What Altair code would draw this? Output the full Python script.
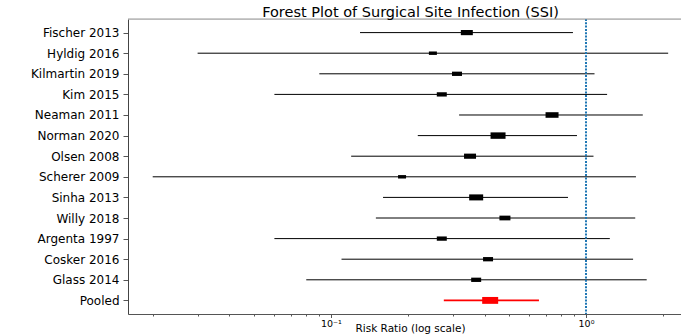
import altair as alt
import pandas as pd

studies = ["Fischer 2013", "Hyldig 2016", "Kilmartin 2019", "Kim 2015", "Neaman 2011",
           "Norman 2020", "Olsen 2008", "Scherer 2009", "Sinha 2013", "Willy 2018",
           "Argenta 1997", "Cosker 2016", "Glass 2014", "Pooled"]
rr = [0.341, 0.251, 0.312, 0.272, 0.736, 0.452, 0.351, 0.190, 0.371, 0.481, 0.272, 0.413, 0.371, 0.421]
ci_low = [0.130, 0.030, 0.090, 0.060, 0.318, 0.219, 0.120, 0.020, 0.160, 0.150, 0.060, 0.110, 0.080, 0.277]
ci_high = [0.889, 2.10, 1.08, 1.21, 1.67, 0.922, 1.07, 1.57, 0.85, 1.56, 1.24, 1.53, 1.73, 0.654]
weight = [12, 8, 10, 10, 13, 15, 12, 8, 14, 11, 10, 10, 10, 16]
kind = ["study"] * 13 + ["pooled"]

x_ticks = [0.02, 0.03, 0.04, 0.05, 0.06, 0.07, 0.08, 0.09, 0.1,
           0.2, 0.3, 0.4, 0.5, 0.6, 0.7, 0.8, 0.9, 1, 2]
null_value = 1.0

df = pd.DataFrame({"study": studies, "rr": rr, "lo": ci_low, "hi": ci_high,
                   "weight": weight, "kind": kind})

W, H = 553, 295
xscale = alt.Scale(type="log", domain=[0.016, 2.358], nice=False, zero=False)
yscale = alt.Scale(type="point", domain=studies, padding=0.66)
color = alt.Color("kind:N", scale=alt.Scale(domain=["study", "pooled"], range=["#000000", "#ff0000"]), legend=None)

xaxis = alt.Axis(
    values=x_ticks,
    labelExpr="datum.value == 0.1 ? '10⁻¹' : (datum.value == 1 ? '10⁰' : '')",
    labelOverlap=False,
    tickSize={"condition": {"test": "datum.value == 0.1 || datum.value == 1", "value": 3.5}, "value": 2},
    grid=False, labelFontSize=9.5, labelPadding=1, titleFontSize=10.5, titlePadding=-5,
    titleFontWeight="normal", title="Risk Ratio (log scale)", titleX=282,
    domainColor="#555555", tickColor="#555555", labelColor="#000000", titleColor="#000000",
    labelFont="DejaVu Sans", titleFont="DejaVu Sans",
)
yaxis = alt.Axis(title=None, grid=False, labelFontSize=12, labelPadding=4, tickSize=5,
                 domainColor="#444444", tickColor="#555555", labelColor="#000000",
                 labelFont="DejaVu Sans")

base = alt.Chart(df)

ci = base.mark_rule().encode(
    x=alt.X("lo:Q", scale=xscale, axis=xaxis),
    x2="hi:Q",
    y=alt.Y("study:N", scale=yscale, axis=yaxis, sort=studies),
    color=color,
    strokeWidth=alt.condition("datum.kind == 'pooled'", alt.value(1.6), alt.value(1.0)),
)

boxes = base.mark_point(
    shape="M-1,-0.43L1,-0.43L1,0.43L-1,0.43Z", filled=True, opacity=1
).encode(
    x=alt.X("rr:Q", scale=xscale),
    y=alt.Y("study:N", scale=yscale, sort=studies),
    color=color,
    size=alt.Size("weight:Q", scale=alt.Scale(type="pow", exponent=2, domain=[0, 16], range=[0, 256]), legend=None),
)

vline = alt.Chart(pd.DataFrame({"v": [null_value]})).mark_rule(
    color="#1f77b4", strokeDash=[2, 1.3], strokeWidth=2
).encode(x=alt.X("v:Q", scale=xscale))

top = alt.Chart(pd.DataFrame({"a": [0]})).mark_rule(color="#999999", strokeWidth=1).encode(
    x=alt.value(0), x2=alt.value(W), y=alt.value(0)
)

chart = alt.layer(ci, vline, boxes, top).properties(
    width=W, height=H,
    title=alt.TitleParams("Forest Plot of Surgical Site Infection (SSI)", fontSize=14.5,
                          fontWeight="normal", font="DejaVu Sans", color="#000000",
                          dx=6, offset=-2),
    autosize=alt.AutoSizeParams(type="none"),
    padding={"left": 128, "top": 19, "right": 0, "bottom": 21},
).configure_view(stroke=None).configure(background="white")

chart.save("out.html", embed_options={"renderer": "svg", "actions": False})
